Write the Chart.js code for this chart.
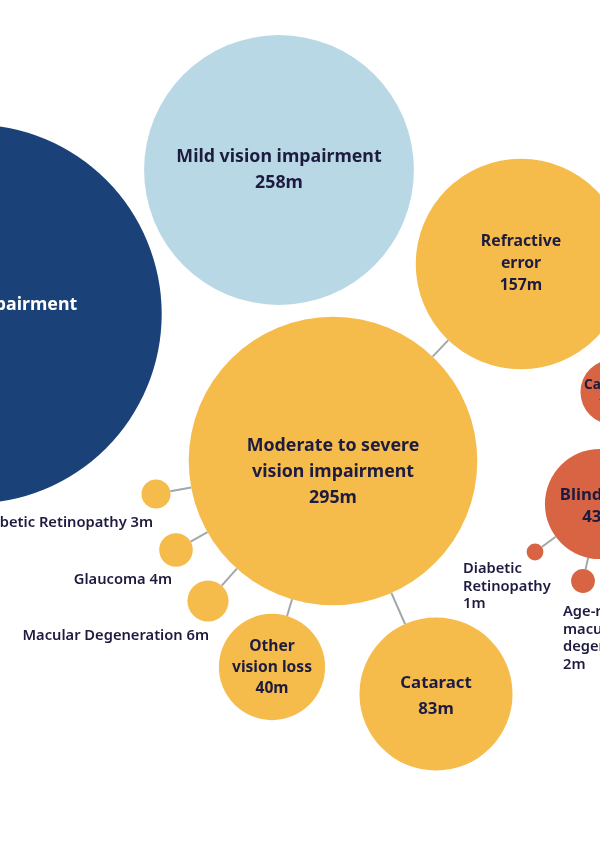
<!DOCTYPE html>
<html>
<head>
<meta charset="utf-8">
<script src="https://cdn.jsdelivr.net/npm/chart.js@4.4.0/dist/chart.umd.min.js"></script>
<style>
  html, body { margin: 0; padding: 0; background: #fff; }
  #wrap { width: 600px; height: 842px; }
</style>
</head>
<body>
<div id="wrap"><canvas id="bubbles"></canvas></div>
<script>
// bubble data (millions of people)
const names = ['Near vision impairment', 'Mild vision impairment', 'Moderate to severe vision impairment',
  'Refractive error', 'Cataract', 'Other vision loss', 'Diabetic Retinopathy', 'Glaucoma',
  'Macular Degeneration', 'Blindness', 'Cataract', 'Diabetic Retinopathy', 'Age-related macular degeneration'];
const values = [510, 258, 295, 157, 83, 40, 3, 4, 6, 43, 15, 1, 2];
const xs = [-28, 279, 333, 521, 436, 272, 156, 176, 208, 600, 613, 535, 583];
const ys = [314, 170, 461, 264, 694, 667, 494, 550, 601, 504, 392, 552, 581];
const parents = [null, null, null, 2, 2, 2, 2, 2, 2, null, 9, 9, 9];
const groups = ['near', 'mild', 'moderate', 'moderate', 'moderate', 'moderate', 'moderate', 'moderate',
  'moderate', 'blind', 'blind', 'blind', 'blind'];

const colours = { near: '#1a4178', mild: '#b9d8e6', moderate: '#f5bc4b', blind: '#d96443' };
const ink = '#1d1b3f';
const k = 8.4; // px per sqrt(million)
const radius = v => k * Math.sqrt(v);

// how each label is drawn
const labelSpec = [
  { lines: ['Near vision impairment'], inside: true, size: 17.8, lh: 26, colour: '#fff', dy: 4 },
  { lines: ['Mild vision impairment'], inside: true, size: 17.8, lh: 26, dy: 0 },
  { lines: ['Moderate to severe', 'vision impairment'], inside: true, size: 17.8, lh: 26, dy: 11 },
  { lines: ['Refractive', 'error'], inside: true, size: 15.8, lh: 22, dy: -1 },
  { lines: ['Cataract'], inside: true, size: 16.8, lh: 26, dy: 2 },
  { lines: ['Other', 'vision loss'], inside: true, size: 15.6, lh: 21, dy: 1 },
  { lines: ['Diabetic Retinopathy'], inline: true, align: 'right', dx: -3, dy: 29 },
  { lines: ['Glaucoma'], inline: true, align: 'right', dx: -4, dy: 30 },
  { lines: ['Macular Degeneration'], inline: true, align: 'right', dx: 1, dy: 35 },
  { lines: ['Blindness'], inside: true, size: 16.8, lh: 22, dy: 2 },
  { lines: ['Cataract'], inside: true, size: 13.6, lh: 18, dy: 2 },
  { lines: ['Diabetic', 'Retinopathy'], align: 'left', dx: -72, dy: 17 },
  { lines: ['Age-related', 'macular', 'degeneration'], align: 'left', dx: -20, dy: 31 }
];

const points = values.map((v, i) => ({ x: xs[i], y: ys[i], r: radius(v) }));

const connectors = {
  id: 'connectors',
  beforeDatasetsDraw(chart) {
    const { ctx, scales: { x, y } } = chart;
    ctx.save();
    ctx.strokeStyle = '#a2a7aa';
    ctx.lineWidth = 2;
    parents.forEach((p, i) => {
      if (p === null) return;
      const cx = x.getPixelForValue(xs[i]), cy = y.getPixelForValue(ys[i]);
      const px = x.getPixelForValue(xs[p]), py = y.getPixelForValue(ys[p]);
      const d = Math.hypot(px - cx, py - cy);
      const ux = (px - cx) / d, uy = (py - cy) / d;
      const r1 = radius(values[i]), r2 = radius(values[p]);
      ctx.beginPath();
      ctx.moveTo(cx + ux * r1, cy + uy * r1);
      ctx.lineTo(px - ux * r2, py - uy * r2);
      ctx.stroke();
    });
    ctx.restore();
  }
};

const bubbleLabels = {
  id: 'bubbleLabels',
  afterDatasetsDraw(chart) {
    const { ctx, scales: { x, y } } = chart;
    ctx.save();
    ctx.textBaseline = 'middle';
    labelSpec.forEach((s, i) => {
      const cx = x.getPixelForValue(xs[i]), cy = y.getPixelForValue(ys[i]);
      const amount = values[i] + 'm';
      ctx.fillStyle = s.colour || ink;
      if (s.inside) {
        const lines = s.lines.concat([amount]);
        ctx.font = `700 ${s.size}px "Noto Sans", sans-serif`;
        ctx.textAlign = 'center';
        const top = cy + (s.dy || 0) - (lines.length - 1) * s.lh / 2;
        lines.forEach((t, j) => ctx.fillText(t, cx, top + j * s.lh));
      } else if (s.inline) {
        ctx.font = '600 14.7px "Noto Sans", sans-serif';
        ctx.textAlign = s.align;
        ctx.fillText(s.lines[0] + ' ' + amount, cx + s.dx, cy + s.dy);
      } else {
        const lines = s.lines.concat([amount]);
        ctx.font = '600 14.7px "Noto Sans", sans-serif';
        ctx.textAlign = s.align;
        lines.forEach((t, j) => ctx.fillText(t, cx + s.dx, cy + s.dy + j * 17.5));
      }
    });
    ctx.restore();
  }
};

new Chart(document.getElementById('bubbles'), {
  type: 'bubble',
  data: {
    labels: names,
    datasets: [{
      data: points,
      backgroundColor: groups.map(g => colours[g]),
      borderWidth: 0,
      hoverBorderWidth: 0,
      clip: false
    }]
  },
  options: {
    responsive: true,
    maintainAspectRatio: false,
    animation: false,
    layout: { padding: 0, autoPadding: false },
    plugins: { legend: { display: false }, tooltip: { enabled: false } },
    scales: {
      x: { type: 'linear', min: 0, max: 600, display: false },
      y: { type: 'linear', min: 0, max: 842, reverse: true, display: false }
    }
  },
  plugins: [connectors, bubbleLabels]
});
</script>
</body>
</html>
